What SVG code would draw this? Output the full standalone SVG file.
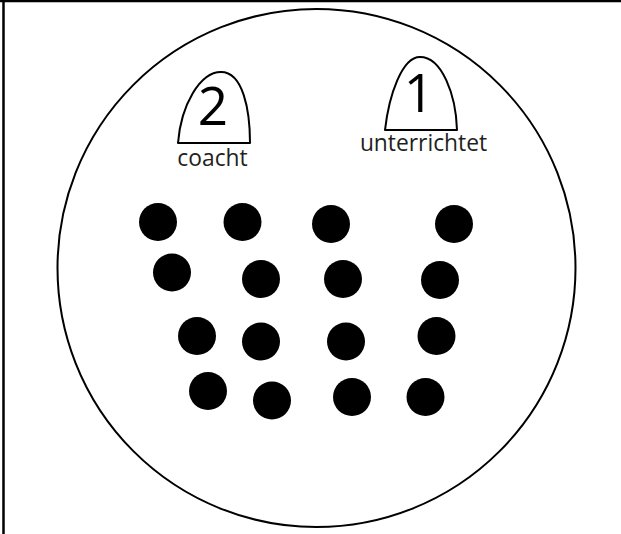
<svg xmlns="http://www.w3.org/2000/svg" width="621" height="534" viewBox="0 0 621 534">
<style>
.ln{fill:none;stroke:#000;stroke-width:2}
.bell{fill:#fff;stroke:#000;stroke-width:2;stroke-linejoin:round}
.dot{fill:#000}
.num{font-family:"Open Sans","Noto Sans",sans-serif;font-size:53px;fill:#000;text-anchor:middle}
.lbl{font-family:"Open Sans","Noto Sans",sans-serif;font-size:22.8px;fill:#231f20;text-anchor:middle}
</style>
<rect width="621" height="534" fill="#fff"/>
<g id="frame">
<line x1="0" y1="1" x2="621" y2="1" stroke="#000" stroke-width="2.5"/>
<line x1="3.5" y1="0" x2="3.5" y2="534" stroke="#000" stroke-width="2.5"/>
</g>
<g id="field">
<circle class="ln" cx="316.5" cy="268" r="259"/>
</g>
<g id="coach2">
<path class="bell" d="M178,143 C181,105 200,72 221,72 C243,72 250,110 250,143 Z"/>
<text class="num" x="213" y="125">2</text>
<text class="lbl" x="212.5" y="166">coacht</text>
</g>
<g id="coach1">
<path class="bell" d="M385,130 C389,95 402,57 420,57 C442,57 456,95 457,130 Z"/>
<text class="num" x="419" y="112">1</text>
<text class="lbl" x="423.5" y="151">unterrichtet</text>
</g>
<g id="players">
<circle class="dot" cx="158" cy="222" r="19"/>
<circle class="dot" cx="242.5" cy="222" r="19"/>
<circle class="dot" cx="331" cy="224" r="19"/>
<circle class="dot" cx="454" cy="224" r="19"/>
<circle class="dot" cx="172" cy="272.5" r="19"/>
<circle class="dot" cx="261" cy="279" r="19"/>
<circle class="dot" cx="343" cy="279" r="19"/>
<circle class="dot" cx="440" cy="280" r="19"/>
<circle class="dot" cx="197" cy="336" r="19"/>
<circle class="dot" cx="261" cy="341.5" r="19"/>
<circle class="dot" cx="346" cy="341.5" r="19"/>
<circle class="dot" cx="436.5" cy="336" r="19"/>
<circle class="dot" cx="208" cy="391" r="19"/>
<circle class="dot" cx="272" cy="400.5" r="19"/>
<circle class="dot" cx="352" cy="397" r="19"/>
<circle class="dot" cx="425.5" cy="397" r="19"/>
</g>
</svg>
